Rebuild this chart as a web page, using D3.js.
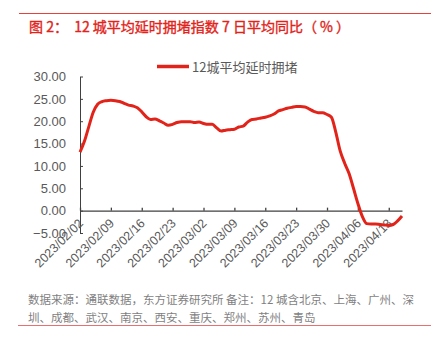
<!DOCTYPE html>
<html><head><meta charset="utf-8">
<script src="https://cdn.jsdelivr.net/npm/d3@7"></script>
<style>
html,body{margin:0;padding:0;background:#fff;}
svg text{font-family:"Liberation Sans","Noto Sans CJK SC",sans-serif;}
</style></head>
<body><svg id="c" width="431" height="346"></svg>
<script>
const title = "图 2：  12 城平均延时拥堵指数 7 日平均同比（ % ）";
const seriesName = "12城平均延时拥堵";
const startDate = "2023/02/02";
const values = [13.1,15.5,18.8,22.0,23.8,24.4,24.6,24.7,24.6,24.4,
 24.0,23.6,23.4,23.0,22.1,21.0,20.4,20.5,20.1,19.6,
 19.1,19.3,19.7,19.9,19.9,19.9,19.7,19.8,19.5,19.3,
 19.3,18.5,17.8,18.0,18.1,18.2,18.7,18.9,19.8,20.4,
 20.5,20.7,20.9,21.2,21.6,22.3,22.6,22.9,23.1,23.3,
 23.3,23.2,22.7,22.2,21.9,21.9,21.5,20.9,17.5,13.3,
 10.6,8.3,5.0,1.6,-1.3,-2.9,-3.0,-3.0,-3.1,-3.2,
 -3.3,-3.1,-2.3,-1.2];
const yTicks = [-5,0,5,10,15,20,25,30];
const source1 = "数据来源：通联数据，东方证券研究所 备注：12 城含北京、上海、广州、深";
const source2 = "圳、成都、武汉、南京、西安、重庆、郑州、苏州、青岛";

const fmt = d3.timeFormat("%Y/%m/%d");
const parse = d3.timeParse("%Y/%m/%d");
const d0 = parse(startDate);
const dates = values.map((v,i)=>fmt(d3.timeDay.offset(d0,i)));
const tickDates = dates.filter((d,i)=>i%7===0);

const svg = d3.select("#c");
const red = "#e2231a";
svg.append("line").attr("x1",19).attr("x2",431).attr("y1",13.5).attr("y2",13.5).attr("stroke","#e8413c").attr("stroke-width",1);
svg.append("text").attr("x",29).attr("y",31.5).attr("fill",red).attr("font-size",14)
  .attr("stroke",red).attr("stroke-width",0.35)
  .style("font-family","'Noto Sans CJK SC',sans-serif").style("white-space","pre").text(title);

const x = d3.scalePoint().domain(dates).range([80,402]);
const y = d3.scaleLinear().domain([-5,30]).range([233,76.5]);

const gray = "#595959";
const yAxis = d3.axisLeft(y).tickValues(yTicks).tickFormat(d3.format(".2f")).tickSizeInner(-3).tickSizeOuter(0).tickPadding(14);
const gy = svg.append("g").attr("transform","translate(80,0)").call(yAxis);
gy.selectAll("text").attr("fill",gray).attr("font-size",13);
gy.selectAll("line,path").attr("stroke","#404040");

const xAxis = d3.axisBottom(x).tickValues(tickDates).tickSizeInner(-3).tickSizeOuter(0).tickFormat("");
const gx = svg.append("g").attr("transform",`translate(0,${y(0)})`).call(xAxis);
gx.selectAll("line,path").attr("stroke","#404040").attr("stroke-width",1.3);

svg.append("g").selectAll("text").data(tickDates).join("text")
  .attr("transform",d=>`translate(${x(d)+4},${224}) rotate(-45)`)
  .attr("text-anchor","end").attr("fill",gray).attr("font-size",12.5).text(d=>d);

const line = d3.line().x((d,i)=>x(dates[i])).y(d=>y(d)).curve(d3.curveMonotoneX);
svg.append("path").datum(values).attr("d",line).attr("fill","none").attr("stroke",red).attr("stroke-width",3).attr("stroke-linejoin","round");

// legend
svg.append("line").attr("x1",157).attr("x2",189).attr("y1",66.5).attr("y2",66.5).attr("stroke",red).attr("stroke-width",3.5);
svg.append("text").attr("x",192).attr("y",71.5).attr("fill",gray).attr("font-size",13)
  .style("font-family","'Noto Sans CJK SC',sans-serif").text(seriesName);

svg.append("text").attr("x",28).attr("y",304).attr("fill","#7f7f7f").attr("font-size",11.5)
  .style("font-family","'Noto Sans CJK SC',sans-serif").text(source1);
svg.append("text").attr("x",28).attr("y",321.5).attr("fill","#7f7f7f").attr("font-size",11.5)
  .style("font-family","'Noto Sans CJK SC',sans-serif").text(source2);
svg.append("line").attr("x1",18).attr("x2",431).attr("y1",325.5).attr("y2",325.5).attr("stroke","#ea6f6f").attr("stroke-width",1);
</script></body></html>
